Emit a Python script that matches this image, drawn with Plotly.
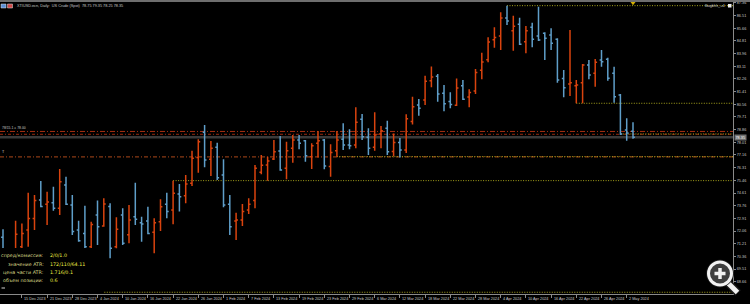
import plotly.graph_objects as go

# ---------------- data ----------------
bar_index = list(range(101))
opens = [71.64, 68.70, 69.90, 71.00, 72.13, 72.90, 74.14, 73.85, 73.96, 73.58,
         75.15, 73.80, 72.13, 71.90, 71.00, 73.13, 72.40, 73.70, 71.00, 73.13,
         71.80, 73.02, 72.62, 72.73, 71.97, 72.68, 73.85, 73.47, 74.54, 74.43,
         75.26, 77.00, 78.68, 76.87, 77.68, 75.82, 73.85, 72.73, 72.80, 73.47,
         74.10, 76.00, 76.49, 76.89, 77.43, 76.27, 77.61, 78.17, 78.12, 77.05,
         77.94, 78.17, 76.38, 77.45, 78.21, 77.83, 77.83, 79.55, 78.35, 77.68,
         78.57, 78.95, 77.40, 78.00, 77.50, 79.40, 80.52, 80.85, 82.15, 82.45,
         81.30, 80.75, 80.50, 81.80, 81.05, 81.45, 82.85, 83.55, 84.90, 85.15,
         86.35, 85.50, 85.93, 84.76, 85.73, 85.14, 85.33, 85.21, 84.92, 82.30,
         81.92, 81.81, 82.01, 83.20, 82.64, 83.53, 83.58, 82.64, 81.19, 78.84,
         78.75]
highs = [72.17, 70.40, 72.75, 72.57, 74.63, 74.48, 75.41, 74.70, 75.03, 76.22,
         75.70, 74.48, 72.75, 73.76, 72.68, 74.10, 74.25, 73.92, 72.98, 73.58,
         73.80, 75.30, 73.02, 73.69, 72.91, 74.19, 74.63, 75.44, 75.21, 75.82,
         77.45, 78.21, 79.17, 78.10, 77.98, 76.87, 74.48, 73.29, 73.87, 74.25,
         76.49, 77.16, 77.05, 78.17, 78.44, 78.05, 78.50, 78.50, 78.17, 77.94,
         78.77, 78.23, 77.88, 78.77, 79.29, 78.88, 80.36, 79.91, 78.95, 80.02,
         79.11, 79.46, 78.60, 78.30, 79.90, 81.07, 80.92, 82.48, 83.09, 82.60,
         81.86, 81.37, 82.30, 82.19, 81.57, 82.93, 84.02, 85.06, 85.73, 86.73,
         87.18, 86.51, 86.37, 85.82, 86.04, 87.11, 85.40, 85.66, 84.99, 82.86,
         85.55, 82.19, 83.27, 83.53, 83.60, 84.20, 83.69, 83.08, 81.25, 79.62,
         79.35]
lows = [68.10, 67.95, 69.50, 70.50, 71.00, 72.13, 73.65, 72.46, 73.42, 73.13,
        73.80, 71.79, 71.34, 70.80, 70.80, 71.12, 72.35, 70.23, 70.90, 71.12,
        71.23, 72.46, 71.34, 71.84, 70.56, 72.06, 72.91, 72.51, 73.36, 73.92,
        75.08, 75.97, 76.33, 75.75, 75.48, 73.65, 71.79, 71.46, 72.40, 73.20,
        73.58, 75.86, 75.44, 76.82, 76.11, 75.53, 76.64, 77.54, 76.71, 76.22,
        77.00, 76.20, 75.70, 77.05, 77.50, 77.54, 77.61, 78.17, 77.16, 77.45,
        77.61, 77.16, 77.10, 77.00, 77.30, 79.20, 79.80, 80.52, 81.70, 80.74,
        80.10, 80.29, 80.45, 80.85, 80.36, 81.25, 82.24, 83.38, 84.36, 84.20,
        85.88, 84.16, 84.54, 83.98, 84.39, 84.81, 83.53, 84.20, 82.01, 81.03,
        81.12, 80.63, 80.63, 82.24, 81.74, 83.08, 82.14, 80.67, 78.50, 78.12,
        78.25]
closes = [68.70, 69.90, 71.84, 71.90, 72.90, 74.10, 73.70, 74.00, 73.58, 75.37,
          73.85, 72.02, 71.41, 71.00, 72.50, 72.35, 73.87, 70.90, 72.17, 71.23,
          72.80, 72.84, 72.53, 71.90, 72.62, 73.69, 73.36, 74.59, 74.36, 75.21,
          76.94, 78.05, 76.82, 77.61, 75.64, 73.80, 72.35, 72.80, 73.36, 73.85,
          76.27, 76.47, 76.76, 77.38, 76.15, 77.45, 78.17, 77.95, 77.11, 77.78,
          78.12, 76.42, 77.32, 78.17, 77.83, 77.78, 79.35, 78.39, 77.61, 78.50,
          78.79, 77.38, 78.00, 77.50, 79.60, 80.40, 80.30, 82.10, 82.40, 81.25,
          80.60, 80.55, 81.65, 80.90, 81.35, 82.70, 83.40, 84.75, 85.05, 86.35,
          86.15, 85.80, 84.59, 85.50, 84.92, 84.88, 84.99, 84.65, 82.19, 81.68,
          82.01, 81.86, 83.20, 82.53, 83.38, 83.42, 82.31, 81.07, 78.57, 78.64,
          78.35]

date_label_index = [-1, 3, 7, 11, 15, 19, 23, 27, 31, 35, 39, 43, 47, 51, 55,
                    59, 63, 67, 71, 75, 79, 83, 87, 91, 95, 99]
date_labels = ["11 Dec 2023", "15 Dec 2023", "21 Dec 2023", "28 Dec 2023",
               "4 Jan 2024", "10 Jan 2024", "16 Jan 2024", "22 Jan 2024",
               "26 Jan 2024", "1 Feb 2024", "7 Feb 2024", "13 Feb 2024",
               "19 Feb 2024", "23 Feb 2024", "29 Feb 2024", "6 Mar 2024",
               "12 Mar 2024", "18 Mar 2024", "22 Mar 2024", "28 Mar 2024",
               "4 Apr 2024", "10 Apr 2024", "16 Apr 2024", "22 Apr 2024",
               "26 Apr 2024", "2 May 2024"]

price_ticks = [87.36, 86.51, 85.66, 84.81, 83.96, 83.11, 82.26, 81.41, 80.56,
               79.71, 78.86, 78.01, 77.16, 76.31, 75.46, 74.61, 73.76, 72.91,
               72.06, 71.21, 70.36, 69.51, 68.66]

# yellow dotted level lines: (price, start bar)
yellow_levels = [87.18, 80.63, 78.57, 77.05, 75.44, 67.95]
yellow_starts = [80, 91, 98, 53, 27, 1]
red_levels = [78.74, 78.55]
orange_level = 77.03
bid_price = 78.35

info_labels = ["спред/комиссия:", "значение ATR:", "цена части ATR:", "объем позиции:"]
info_values = ["2/0/1.0", "172/110/64.11", "1.716/0.1", "0.6"]

title_text = "XTIUSD.ecn, Daily:  US Crude (Spot)  78.75 79.35 78.25 78.35"

# ---------------- geometry ----------------
W, H = 750, 304
PW, PH = 733, 294          # plot area in pixels
XMIN, XMAX = -3 / 6.3, 730 / 6.3
YMAX = 87.56
YMIN = YMAX - PH * 0.0671

def px(x):
    return x / PW

def py(y):
    return (PH - y) / PH

UP = "#d9430e"
DN = "#5f9ec9"
YEL = "#a8a41c"
TXT = "#c8c8c8"
FS = 3.8

fig = go.Figure()
fig.add_trace(go.Ohlc(
    x=bar_index, open=opens, high=highs, low=lows, close=closes,
    increasing=dict(line=dict(color=UP, width=1.5)),
    decreasing=dict(line=dict(color=DN, width=1.5)),
    tickwidth=0.3, showlegend=False, hoverinfo="skip"))

# marker of the last bar at top
fig.add_trace(go.Scatter(
    x=[bar_index[-1]], y=[YMAX - 2.7 * 0.0671], mode="markers",
    marker=dict(symbol="triangle-down", size=5, color="#d4b000"),
    showlegend=False, hoverinfo="skip", cliponaxis=False))

shapes = []
# gray bid line
shapes.append(dict(type="line", xref="x", yref="y", x0=XMIN, x1=XMAX,
                   y0=bid_price, y1=bid_price, layer="below",
                   line=dict(color="#3a3a3a", width=2.5)))
# red dash-dot lines
shapes.append(dict(type="line", xref="x", yref="y", x0=XMIN, x1=XMAX,
                   y0=red_levels[0], y1=red_levels[0], layer="below",
                   line=dict(color="#a82f10", width=1, dash="5px,2px,1px,2px")))
shapes.append(dict(type="line", xref="x", yref="y", x0=XMIN, x1=XMAX,
                   y0=red_levels[1], y1=red_levels[1], layer="below",
                   line=dict(color="#962a10", width=1, dash="3px,2px,1px,2px")))
# orange dash-dot line
shapes.append(dict(type="line", xref="x", yref="y", x0=XMIN, x1=XMAX,
                   y0=orange_level, y1=orange_level, layer="below",
                   line=dict(color="#8a3a14", width=1.2, dash="4px,2px,1px,2px")))
# yellow dotted levels
for lv, st in zip(yellow_levels, yellow_starts):
    shapes.append(dict(type="line", xref="x", yref="y", x0=st, x1=XMAX,
                       y0=lv, y1=lv, layer="below",
                       line=dict(color=YEL, width=1, dash="1px,1.5px")))

# top window bar
shapes.append(dict(type="rect", xref="paper", yref="paper",
                   x0=0, x1=px(W), y0=py(2), y1=py(0), layer="above",
                   fillcolor="#6e6e6e", line=dict(width=0)))
# tiny icons top-left
shapes.append(dict(type="rect", xref="paper", yref="paper",
                   x0=px(1), x1=px(6), y0=py(8), y1=py(4), layer="above",
                   fillcolor="#5a8fd6", line=dict(color="#e0e0e0", width=0.5)))
shapes.append(dict(type="rect", xref="paper", yref="paper",
                   x0=px(7.5), x1=px(12.5), y0=py(8), y1=py(4), layer="above",
                   fillcolor="#d04848", line=dict(color="#e0e0e0", width=0.5)))
# little square top right
shapes.append(dict(type="rect", xref="paper", yref="paper",
                   x0=px(728), x1=px(731.5), y0=py(7.5), y1=py(4), layer="above",
                   fillcolor="#f0f0f0", line=dict(width=0)))
# info box
shapes.append(dict(type="rect", xref="paper", yref="paper",
                   x0=0, x1=px(103), y0=0, y1=py(248), layer="above",
                   fillcolor="#000000", line=dict(width=0)))
shapes.append(dict(type="line", xref="paper", yref="paper",
                   x0=px(1.5), x1=px(5), y0=py(288), y1=py(288), layer="above",
                   line=dict(color="#d0d0d0", width=1)))
# magnifier overlay
shapes.append(dict(type="line", xref="paper", yref="paper",
                   x0=px(727), x1=px(738), y0=py(282), y1=py(293), layer="above",
                   line=dict(color="#1a1a1a", width=8)))
shapes.append(dict(type="line", xref="paper", yref="paper",
                   x0=px(727), x1=px(737.5), y0=py(282), y1=py(292.5), layer="above",
                   line=dict(color="#f2f2f2", width=5)))
shapes.append(dict(type="circle", xref="paper", yref="paper",
                   x0=px(706.5), x1=px(733.5), y0=py(287), y1=py(260), layer="above",
                   fillcolor="#1a1a1a", line=dict(color="#1a1a1a", width=1)))
shapes.append(dict(type="circle", xref="paper", yref="paper",
                   x0=px(708.5), x1=px(731.5), y0=py(285), y1=py(262), layer="above",
                   fillcolor="#3e3e3e", line=dict(color="#f2f2f2", width=3)))
shapes.append(dict(type="line", xref="paper", yref="paper",
                   x0=px(714.5), x1=px(725.5), y0=py(273.5), y1=py(273.5), layer="above",
                   line=dict(color="#f2f2f2", width=3.5)))
shapes.append(dict(type="line", xref="paper", yref="paper",
                   x0=px(720), x1=px(720), y0=py(279), y1=py(268), layer="above",
                   line=dict(color="#f2f2f2", width=3.5)))

annotations = []
annotations.append(dict(xref="paper", yref="paper", x=px(15), y=py(6),
                        xanchor="left", yanchor="middle", showarrow=False,
                        text=title_text, font=dict(size=FS, color=TXT,
                                                   family="Liberation Sans")))
annotations.append(dict(xref="paper", yref="paper", x=px(727), y=py(6),
                        xanchor="right", yanchor="middle", showarrow=False,
                        text="Bagbhh_+4", font=dict(size=FS, color=TXT,
                                                    family="Liberation Sans")))
annotations.append(dict(xref="paper", yref="y", x=0, y=red_levels[0],
                        xanchor="left", yanchor="bottom", showarrow=False,
                        yshift=-1, text="78/15.1 ∧ 78.00",
                        font=dict(size=3.4, color=TXT, family="Liberation Sans")))
annotations.append(dict(xref="paper", yref="y", x=0, y=orange_level,
                        xanchor="left", yanchor="bottom", showarrow=False,
                        yshift=1, text="T",
                        font=dict(size=FS, color=TXT, family="Liberation Sans")))
# current price box on the axis
annotations.append(dict(xref="paper", yref="y", x=1, y=bid_price,
                        xanchor="left", yanchor="middle", showarrow=False,
                        text=f"{bid_price:.2f}", bgcolor="#707070",
                        borderpad=0.5, xshift=1,
                        font=dict(size=FS, color="#ffffff",
                                  family="Liberation Sans")))
# date labels
for i, t in zip(date_label_index, date_labels):
    annotations.append(dict(xref="x", yref="paper", x=i, y=py(299),
                            xanchor="left", yanchor="middle", showarrow=False,
                            xshift=0.5, text=t,
                            font=dict(size=FS, color=TXT,
                                      family="Liberation Sans")))
# info box text
rows = [255.3, 264, 272.3, 280.3]
for lab, val, yy in zip(info_labels, info_values, rows):
    annotations.append(dict(xref="paper", yref="paper", x=px(45.5), y=py(yy),
                            xanchor="right", yanchor="middle", showarrow=False,
                            text=lab, font=dict(size=4.8, color="#dcdc8a",
                                                family="DejaVu Sans")))
    annotations.append(dict(xref="paper", yref="paper", x=px(48), y=py(yy),
                            xanchor="left", yanchor="middle", showarrow=False,
                            text=val, font=dict(size=4.8, color="#eeee44",
                                                family="DejaVu Sans")))

fig.update_layout(
    width=W, height=H,
    margin=dict(l=0, r=W - PW, t=0, b=H - PH),
    paper_bgcolor="#000000", plot_bgcolor="#000000",
    showlegend=False, shapes=shapes, annotations=annotations,
    xaxis=dict(range=[XMIN, XMAX], rangeslider=dict(visible=False),
               showgrid=False, zeroline=False, showline=True,
               linecolor="#8a8a8a", linewidth=1,
               tickmode="array", tickvals=date_label_index[1:],
               showticklabels=False, ticks="outside", ticklen=3,
               tickcolor="#8a8a8a", tickwidth=1, fixedrange=True),
    yaxis=dict(range=[YMIN, YMAX], side="right", showgrid=False,
               zeroline=False, showline=True, linecolor="#8a8a8a",
               linewidth=1, tickmode="array", tickvals=price_ticks,
               ticktext=[f"{v:.2f}" for v in price_ticks],
               ticks="outside", ticklen=2, tickcolor="#8a8a8a",
               tickfont=dict(size=FS, color=TXT, family="Liberation Sans"),
               fixedrange=True),
)

fig.write_html("out.html")
